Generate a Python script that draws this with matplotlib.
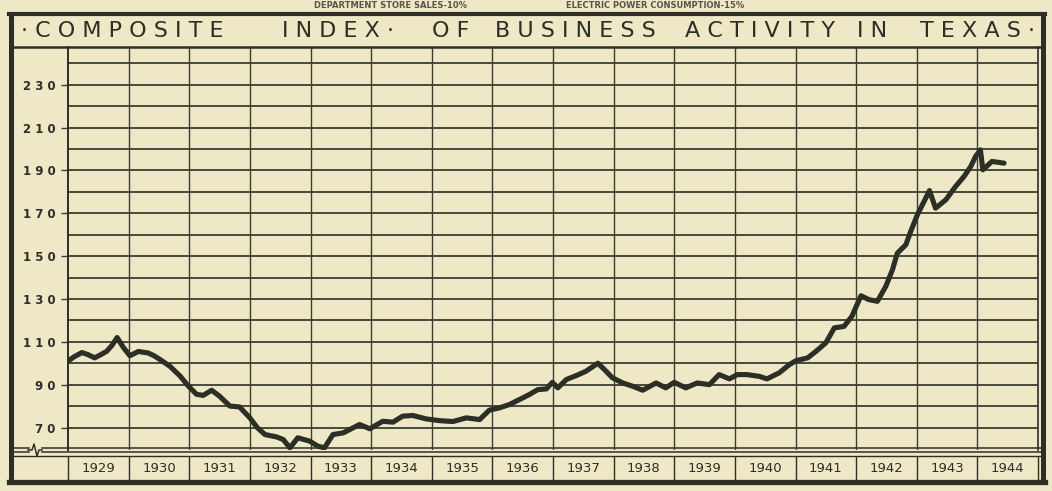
import numpy as np
import matplotlib.pyplot as plt
from matplotlib import font_manager

PAPER = "#efe8c6"
INK = "#2c2f26"
GRID = "#3b3d31"

# composite index (decimal year, index value)
dates = [
    1929.00, 1929.10, 1929.23, 1929.33, 1929.44, 1929.54, 1929.64, 1929.73, 1929.81, 1929.91,
    1930.02, 1930.16, 1930.32, 1930.42, 1930.52, 1930.68, 1930.85, 1930.98,
    1931.12, 1931.23, 1931.37, 1931.50, 1931.67, 1931.83,
    1932.00, 1932.12, 1932.25, 1932.44, 1932.55, 1932.66, 1932.79, 1932.99,
    1933.12, 1933.23, 1933.37, 1933.54, 1933.65, 1933.81, 1933.98,
    1934.19, 1934.36, 1934.52, 1934.69, 1934.91,
    1935.13, 1935.35, 1935.57, 1935.79, 1935.95,
    1936.12, 1936.28, 1936.45, 1936.61, 1936.75, 1936.89, 1936.99,
    1937.08, 1937.22, 1937.38, 1937.54, 1937.74, 1937.85, 1937.98,
    1938.15, 1938.31, 1938.48, 1938.70, 1938.86,
    1939.00, 1939.19, 1939.38, 1939.58, 1939.74, 1939.91,
    1940.04, 1940.20, 1940.40, 1940.53, 1940.73, 1940.90,
    1941.01, 1941.20, 1941.34, 1941.50, 1941.64, 1941.80, 1941.93,
    1942.08, 1942.21, 1942.35, 1942.49, 1942.60, 1942.68, 1942.82, 1942.90,
    1943.01, 1943.12, 1943.21, 1943.31, 1943.48, 1943.64, 1943.78, 1943.89, 1943.97,
    1944.05, 1944.09, 1944.24, 1944.44,
]
index = [
    101.0, 103.0, 105.0, 104.0, 102.5, 104.0, 105.6, 108.5, 112.0, 107.5,
    103.5, 105.5, 104.8, 103.5, 101.7, 98.6, 94.0, 89.5,
    85.5, 85.0, 87.4, 84.6, 80.0, 79.6,
    74.5, 70.0, 66.7, 65.6, 64.4, 60.5, 65.2, 63.6,
    61.3, 60.5, 66.7, 67.5, 69.1, 71.4, 69.4,
    72.9, 72.5, 75.3, 75.6, 74.0,
    73.2, 72.8, 74.5, 73.7, 78.1,
    79.2, 80.7, 83.1, 85.4, 87.7, 88.0, 91.1,
    88.5, 92.4, 94.2, 96.2, 100.0, 97.0, 93.2,
    90.8, 89.3, 87.4, 90.8, 88.5,
    91.1, 88.5, 90.8, 90.0, 94.7, 92.7,
    94.7, 94.7, 93.9, 92.7, 95.5, 99.4,
    101.2, 102.5, 105.6, 109.5, 116.5, 117.2, 121.9,
    131.5, 129.7, 128.9, 135.9, 143.7, 151.4, 155.3, 161.5,
    169.3, 175.5, 180.6, 172.4, 176.3, 182.5, 187.2, 191.8, 196.5,
    199.6, 190.3, 194.2, 193.4,
]

years = list(range(1929, 1945))
ytick_values = [70, 90, 110, 130, 150, 170, 190, 210, 230]
title_words = ["·COMPOSITE", "INDEX·", "OF", "BUSINESS", "ACTIVITY", "IN", "TEXAS·"]
top_notes = ["DEPARTMENT STORE SALES-10%", "ELECTRIC POWER CONSUMPTION-15%"]

# narrow lettering like the drafted original, if the font is there
names = {f.name for f in font_manager.fontManager.ttflist}
NARROW = "Liberation Sans Narrow" if "Liberation Sans Narrow" in names else "DejaVu Sans"

W, H = 1052, 491
fig = plt.figure(figsize=(W / 100, H / 100), dpi=100, facecolor=PAPER)

# pixel-space layer for the frame and bands
deco = fig.add_axes([0, 0, 1, 1])
deco.set_xlim(0, W)
deco.set_ylim(H, 0)
deco.axis("off")

L, R, T, B = 68, 1038, 47, 450
ax = fig.add_axes([L / W, 1 - B / H, (R - L) / W, (B - T) / H])
ax.set_zorder(2)
ax.patch.set_visible(False)

ax.plot(dates, index, color=INK, lw=3.7, solid_joinstyle="round",
        solid_capstyle="round", zorder=5)

ax.set_xlim(1929, 1945)
ax.set_ylim(59.5, 70 + (428 - T) / 2.145)

# grid: every 10 points, one column per year
ax.set_yticks(ytick_values)
ax.set_yticklabels([" ".join(str(v)) for v in ytick_values])
ax.set_yticks([v + 10 for v in ytick_values], minor=True)
ax.set_xticks([y + 0.5 for y in years])
ax.set_xticklabels([str(y) for y in years])
ax.set_xticks(years[1:], minor=True)
ax.grid(True, axis="y", which="both", color=GRID, lw=1.3)
ax.grid(True, axis="x", which="minor", color=GRID, lw=1.0)

ax.tick_params(axis="y", which="major", length=5, width=1.0, color=GRID,
               pad=4, labelsize=8.5, labelcolor=INK)
ax.tick_params(axis="y", which="minor", length=0)
ax.tick_params(axis="x", which="both", length=0, pad=9, labelsize=9.5,
               labelcolor=INK)
for lab in ax.get_yticklabels():
    lab.set_fontweight("bold")
    lab.set_family(NARROW)
for lab in ax.get_xticklabels():
    lab.set_family(NARROW)

for side in ["top", "bottom", "right"]:
    ax.spines[side].set_visible(False)
ax.spines["left"].set_color(INK)
ax.spines["left"].set_linewidth(1.4)

# year cells in the label band
ax.vlines(years + [1945], ymin=-0.015, ymax=-0.08,
          transform=ax.get_xaxis_transform(), color=INK, lw=1.0, clip_on=False)

# outer frame
deco.plot([11, 11], [14, 484], color=INK, lw=3.6, solid_capstyle="butt")
deco.plot([1043, 1043], [14, 484], color=INK, lw=3.6, solid_capstyle="butt")
deco.plot([9, 1045], [14, 14], color=INK, lw=3.0)
deco.plot([9, 1045], [482, 482], color=INK, lw=3.8)
deco.plot([11, 1043], [T, T], color=INK, lw=1.8)
deco.plot([R, R], [T, B], color=INK, lw=1.2)

# broken-axis double line with squiggle
deco.plot([11, 1043], [448, 448], color=INK, lw=1.1)
deco.plot([11, 1043], [452, 452], color=INK, lw=1.1)
deco.fill_between([30, 40], 446, 454, color=PAPER, zorder=3)
deco.plot([28, 32, 34, 37, 39, 42], [450, 450, 444, 456, 450, 450],
          color=INK, lw=1.1, zorder=4)
deco.plot([11, 1043], [456, 456], color=INK, lw=1.0)

# title band
title_x = [122, 338, 451, 575, 760, 872, 978]
for word, x in zip(title_words, title_x):
    deco.text(x, 31, " ".join(word), ha="center", va="center", fontsize=16,
              color=INK, family=NARROW)

for note, x in zip(top_notes, [390, 655]):
    deco.text(x, 5, note, ha="center", va="center", fontsize=6,
              fontweight="bold", color="#55564a", family=NARROW)

fig.savefig("out.png", dpi=100, facecolor=PAPER)
